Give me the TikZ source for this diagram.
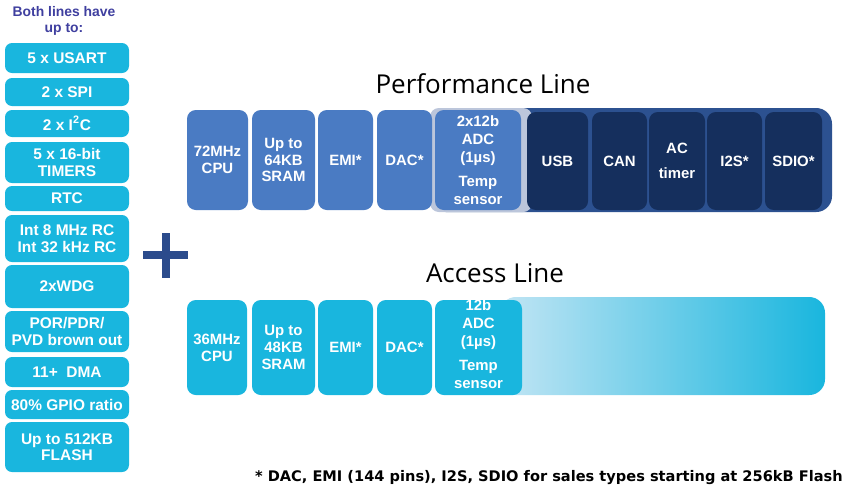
\documentclass[tikz,border=0pt]{standalone}
\usepackage{fontspec}
\setmainfont{Liberation Sans}
\newfontfamily\titlefont{Open Sans}
\newfontfamily\notefont{DejaVu Sans}
\usetikzlibrary{positioning,calc}
\definecolor{cyanbox}{HTML}{19B6DE}
\definecolor{cyanlight}{HTML}{C2E5F4}
\definecolor{perfblue}{HTML}{4A7BC3}
\definecolor{navybox}{HTML}{152F5D}
\definecolor{navybar}{HTML}{2C5190}
\definecolor{barlight}{HTML}{BCC6DB}
\definecolor{headblue}{HTML}{3F3F9F}
\definecolor{plusblue}{HTML}{2B4B8C}
\tikzset{
    x=0.02cm,
    y=-0.02cm,
    featbox/.style = {
        shape=rectangle,
        fill=cyanbox,
        rounded corners=4pt,
        minimum width=124*0.02cm,
        minimum height=#1*0.02cm,
        inner sep=0pt,
        align=center,
        text=white,
        font=\bfseries\fontsize{8.8}{9.4}\selectfont
    },
    chipbox/.style = {
        shape=rectangle,
        rounded corners=5pt,
        minimum width=#1*0.02cm,
        inner sep=0pt,
        align=center,
        text=white,
        font=\bfseries\fontsize{8.5}{9.6}\selectfont
    },
    perfbox/.style = {
        chipbox=#1,
        fill=perfblue,
        minimum height=100*0.02cm
    },
    darkbox/.style = {
        chipbox=#1,
        fill=navybox,
        minimum height=98*0.02cm
    },
    accessbox/.style = {
        chipbox=#1,
        fill=cyanbox,
        minimum height=95*0.02cm
    },
    linetitle/.style = {
        font=\titlefont\fontsize{14.8}{16}\selectfont
    },
    header/.style = {
        align=center,
        text=headblue,
        inner sep=0pt,
        font=\bfseries\fontsize{7.9}{9.2}\selectfont
    },
    note/.style = {
        inner sep=0pt,
        font=\notefont\bfseries\fontsize{8.3}{9}\selectfont
    }
}
\begin{document}
\begin{tikzpicture}
    \useasboundingbox (0,0) rectangle (844,495);

    % features common to both lines
    \node[header] (both) at (64,21) {Both lines have\\up to:};
    \node[featbox=30] (usart) at (67,58) {5 x USART};
    \node[featbox=28] (spi) at (67,92) {2 x SPI};
    \node[featbox=27] (iic) at (67,123.5) {2 x I\textsuperscript{2}C};
    \node[featbox=41] (timers) at (67,162.5) {5 x 16-bit\\TIMERS};
    \node[featbox=25] (rtc) at (67,198.5) {RTC};
    \node[featbox=47] (intrc) at (67,238.5) {Int 8 MHz RC\\Int 32 kHz RC};
    \node[featbox=43] (wdg) at (67,286.5) {2xWDG};
    \node[featbox=41] (por) at (67,331.5) {POR/PDR/\\PVD brown out};
    \node[featbox=30] (dma) at (67,372) {11+\ \ DMA};
    \node[featbox=29] (gpio) at (67,404.5) {80\% GPIO ratio};
    \node[featbox=50] (flash) at (67,447) {Up to 512KB\\FLASH};

    % plus sign
    \fill[plusblue] (143,251) rectangle (188,259);
    \fill[plusblue] (161.5,233) rectangle (169.5,278);

    % performance line
    \node[linetitle] (perftitle) at (483,84) {Performance Line};
    \fill[navybar, rounded corners=9pt] (430,108) rectangle (832,212);
    \fill[barlight, rounded corners=5pt] (430,108) rectangle (532,212);
    \node[perfbox=61] (cpuP) at (217.5,160) {72MHz\\CPU};
    \node[perfbox=63] (sramP) at (283.5,160) {Up to\\64KB\\SRAM};
    \node[perfbox=55] (emiP) at (345.5,160) {EMI*};
    \node[perfbox=55] (dacP) at (404.5,160) {DAC*};
    \node[perfbox=86] (adcP) at (478,160) {};
    \node[chipbox=86, font=\bfseries\fontsize{8.5}{10.4}\selectfont] (adcPtext) at (adcP) {2x12b\\ADC\\(1µs)\\[3pt]Temp\\sensor};
    \node[darkbox=61] (usbP) at (557.5,161) {USB};
    \node[darkbox=55] (canP) at (619.5,161) {CAN};
    \node[darkbox=56] (acP) at (677,161) {AC\\[5pt]timer};
    \node[darkbox=55] (i2sP) at (734.5,161) {I2S*};
    \node[darkbox=57] (sdioP) at (793.5,161) {SDIO*};

    % access line
    \node[linetitle] (acctitle) at (495,273) {Access Line};
    \shade[left color=cyanlight, right color=cyanbox, rounded corners=9pt] (500,297) rectangle (825,395);
    \node[accessbox=60] (cpuA) at (217,347.5) {36MHz\\CPU};
    \node[accessbox=63] (sramA) at (283.5,347.5) {Up to\\48KB\\SRAM};
    \node[accessbox=55] (emiA) at (345.5,347.5) {EMI*};
    \node[accessbox=55] (dacA) at (404.5,347.5) {DAC*};
    \node[accessbox=87] (adcA) at (478.5,347.5) {};
    \node[chipbox=87, font=\bfseries\fontsize{8.5}{10.4}\selectfont] (adcAtext) at (478.5,344) {12b\\ADC\\(1µs)\\[3pt]Temp\\sensor};

    % footnote
    \node[note, anchor=east] (footnote) at (843,478) {* DAC, EMI (144 pins), I2S, SDIO for sales types starting at 256kB Flash};
\end{tikzpicture}
\end{document}
